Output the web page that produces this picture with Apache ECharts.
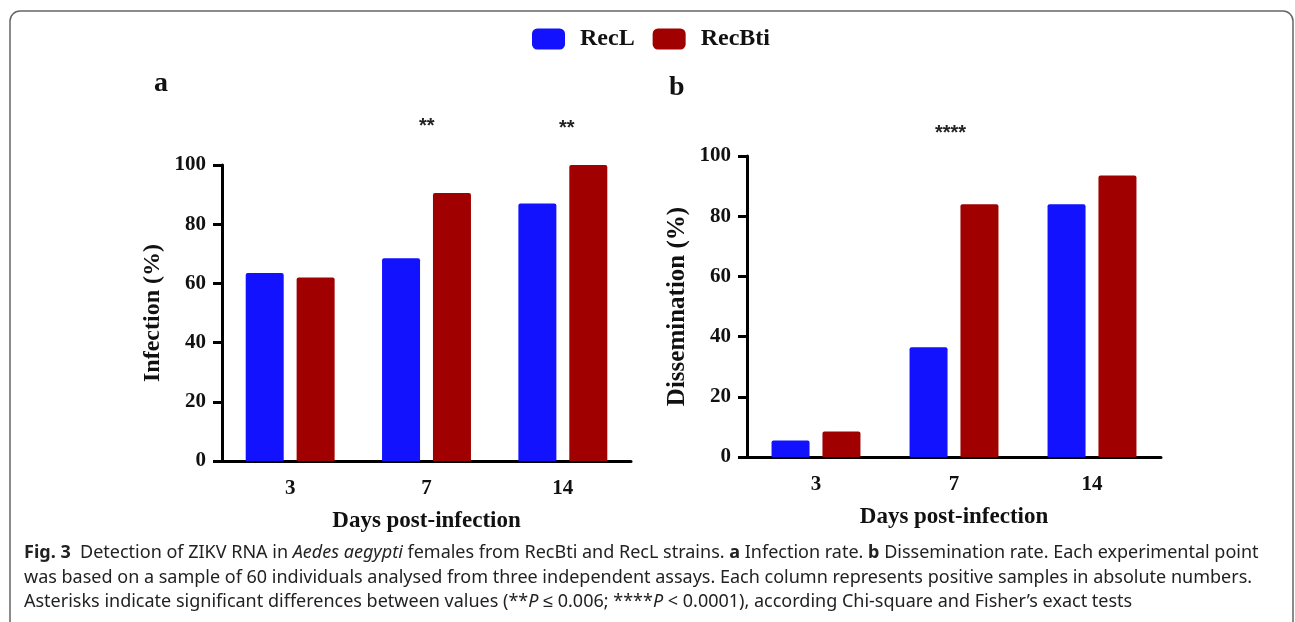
<!DOCTYPE html>
<html>
<head>
<meta charset="utf-8">
<script src="https://cdn.jsdelivr.net/npm/echarts@6/dist/echarts.min.js"></script>
<style>
  html, body { margin: 0; padding: 0; background: #fff; }
  #main { width: 1295px; height: 622px; }
</style>
</head>
<body>
<div id="main"></div>
<script>
var days = ['3', '7', '14'];
var infectionRecL = [63.5, 68.5, 87];
var infectionRecBti = [62, 90.5, 100];
var disseminationRecL = [5.5, 36.5, 84];
var disseminationRecBti = [8.5, 84, 93.5];

var blue = '#1212ff';
var red = '#a00000';
var serif = "'Liberation Serif', 'Times New Roman', serif";
var capFont = "'Noto Sans', sans-serif";

var chartDom = document.getElementById('main');
var myChart = echarts.init(chartDom);
var option;

function xAx(idx) {
  return {
    type: 'category',
    gridIndex: idx,
    data: days,
    name: 'Days post-infection',
    nameLocation: 'middle',
    nameGap: 49,
    nameTextStyle: { fontFamily: serif, fontWeight: 'bold', fontSize: 23, color: '#111' },
    axisLine: { lineStyle: { color: '#000', width: 3 } },
    axisTick: { alignWithLabel: true, length: 9, lineStyle: { width: 3, color: '#000' } },
    axisLabel: { fontFamily: serif, fontWeight: 'bold', fontSize: 21, color: '#111', margin: 17 },
    splitLine: { show: false }
  };
}

function yAx(idx, name, size) {
  return {
    type: 'value',
    gridIndex: idx,
    min: 0,
    max: 100,
    interval: 20,
    name: name,
    nameLocation: 'middle',
    nameGap: 57,
    nameTextStyle: { fontFamily: serif, fontWeight: 'bold', fontSize: size, color: '#111' },
    axisLine: { show: true, lineStyle: { color: '#000', width: 3 } },
    axisTick: { show: true, length: 9, lineStyle: { width: 3, color: '#000' } },
    axisLabel: { fontFamily: serif, fontWeight: 'bold', fontSize: 21, color: '#111', margin: 16 },
    splitLine: { show: false }
  };
}

function bars(name, data, color, idx) {
  return {
    name: name,
    type: 'bar',
    xAxisIndex: idx,
    yAxisIndex: idx,
    data: data,
    barWidth: 38,
    barGap: '34%',
    itemStyle: { color: color, borderRadius: [2, 2, 0, 0] }
  };
}

function starText(x, y, s) {
  return {
    type: 'text', left: x, top: y,
    style: { text: s, fontFamily: "'Liberation Sans', Arial, sans-serif", fontWeight: 'bold', fontSize: 20, fill: '#222', textAlign: 'center', textVerticalAlign: 'middle' }
  };
}

var capRich = {
  b: { fontFamily: capFont, fontWeight: 'bold', fontSize: 18, color: '#222' },
  i: { fontFamily: capFont, fontStyle: 'italic', fontSize: 18, color: '#222' }
};

function capLine(y, s) {
  return {
    type: 'text', left: 24, top: y,
    style: { text: s, rich: capRich, fontFamily: capFont, fontSize: 18, fill: '#222', textVerticalAlign: 'middle' }
  };
}

option = {
  animation: false,
  backgroundColor: '#fff',
  legend: {
    data: ['RecL', 'RecBti'],
    left: 527,
    top: 22,
    itemWidth: 33,
    itemHeight: 21,
    itemGap: 18,
    icon: 'roundRect',
    textStyle: { fontFamily: serif, fontWeight: 'bold', fontSize: 24, color: '#111', padding: [0, 0, 0, 10] }
  },
  grid: [
    { left: 222, top: 165, width: 409, height: 296 },
    { left: 747, top: 156, width: 414, height: 301 }
  ],
  xAxis: [xAx(0), xAx(1)],
  yAxis: [yAx(0, 'Infection (%)', 24), yAx(1, 'Dissemination (%)', 25)],
  series: [
    bars('RecL', infectionRecL, blue, 0),
    bars('RecBti', infectionRecBti, red, 0),
    bars('RecL', disseminationRecL, blue, 1),
    bars('RecBti', disseminationRecBti, red, 1)
  ],
  graphic: [
    {
      type: 'rect',
      shape: { x: 10, y: 11, width: 1283, height: 650, r: 10 },
      style: { fill: 'none', stroke: '#666', lineWidth: 1.5 },
      z: -1
    },
    {
      type: 'text', left: 154, top: 70,
      style: { text: 'a', fontFamily: serif, fontWeight: 'bold', fontSize: 28, fill: '#111' }
    },
    {
      type: 'text', left: 669, top: 74,
      style: { text: 'b', fontFamily: serif, fontWeight: 'bold', fontSize: 28, fill: '#111' }
    },
    starText(419, 116, '**'),
    starText(559, 118, '**'),
    starText(935, 123, '****'),
    capLine(544, '{b|Fig. 3}  Detection of ZIKV RNA in {i|Aedes aegypti} females from RecBti and RecL strains. {b|a} Infection rate. {b|b} Dissemination rate. Each experimental point'),
    capLine(569, 'was based on a sample of 60 individuals analysed from three independent assays. Each column represents positive samples in absolute numbers.'),
    capLine(593, 'Asterisks indicate significant differences between values (**{i|P} ≤ 0.006; ****{i|P} < 0.0001), according Chi-square and Fisher’s exact tests')
  ]
};

option && myChart.setOption(option);
</script>
</body>
</html>
